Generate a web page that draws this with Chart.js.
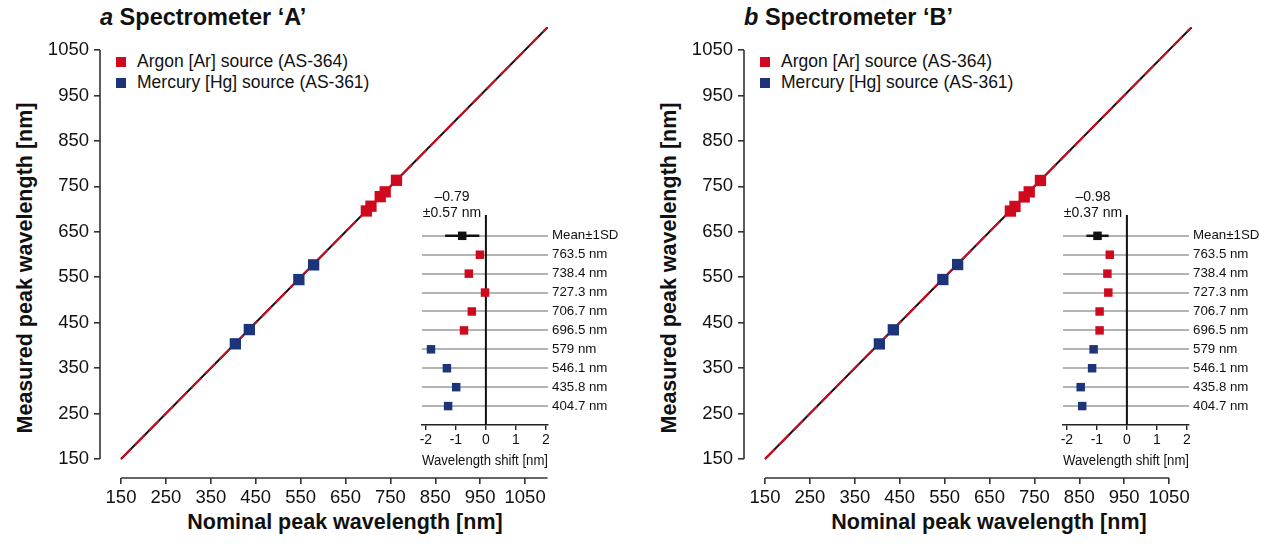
<!DOCTYPE html>
<html>
<head>
<meta charset="utf-8">
<script src="https://cdn.jsdelivr.net/npm/chart.js@4/dist/chart.umd.min.js"></script>
<style>
body { margin: 0; background: #fff; font-family: "Liberation Sans", Arial, sans-serif; color: #111; }
#wrap { position: relative; width: 1269px; height: 544px; overflow: hidden; }
.abs { position: absolute; white-space: nowrap; }
canvas { position: absolute; }
</style>
</head>
<body>
<div id="wrap"></div>
<script>
// nominal peak wavelengths of the lamp lines (nm)
const argonLines = [763.5, 738.4, 727.3, 706.7, 696.5];
const mercuryLines = [579, 546.1, 435.8, 404.7];
const rowLabels = ['Mean±1SD', '763.5 nm', '738.4 nm', '727.3 nm', '706.7 nm', '696.5 nm', '579 nm', '546.1 nm', '435.8 nm', '404.7 nm'];

// wavelength shift (nm), same order as the rows above (argon then mercury)
const shiftA = [-0.20, -0.57, -0.03, -0.47, -0.73, -1.83, -1.30, -0.99, -1.26];
const shiftB = [-0.57, -0.65, -0.62, -0.91, -0.91, -1.11, -1.16, -1.54, -1.49];
const meanA = -0.79, sdA = 0.57;
const meanB = -0.98, sdB = 0.37;

const mainTicks = [150, 250, 350, 450, 550, 650, 750, 850, 950, 1050];
const insetTicks = [-2, -1, 0, 1, 2];

const RED = '#cf0a1f';
const BLUE = '#1e3479';
const FONT = '"Liberation Sans", Arial, sans-serif';

const wrap = document.getElementById('wrap');

function addText(html, left, top, css) {
    const d = document.createElement('div');
    d.className = 'abs';
    d.innerHTML = html;
    d.style.left = left + 'px';
    d.style.top = top + 'px';
    d.style.cssText += css || '';
    wrap.appendChild(d);
    return d;
}

function addCanvas(left, top, w, h) {
    const cv = document.createElement('canvas');
    cv.width = w; cv.height = h;
    cv.style.left = left + 'px';
    cv.style.top = top + 'px';
    wrap.appendChild(cv);
    return cv;
}

// axis lines detached from the plot, like the original
const axisLines = {
    id: 'axisLines',
    afterDraw(chart, args, o) {
        const { ctx, chartArea, scales } = chart;
        const x = scales.x, y = scales.y;
        ctx.save();
        ctx.strokeStyle = '#333';
        ctx.lineWidth = 1.6;
        ctx.beginPath();
        ctx.moveTo(chartArea.left, y.getPixelForValue(150));
        ctx.lineTo(chartArea.left, y.getPixelForValue(1050));
        ctx.moveTo(x.getPixelForValue(150), chartArea.bottom);
        ctx.lineTo(x.getPixelForValue(o.xEnd), chartArea.bottom);
        ctx.stroke();
        ctx.restore();
    }
};

function makePanel(off, letter, name, shifts, mean, sd, xEnd, insetLeft) {
    // titles and legend
    addText('<i>' + letter + '</i> Spectrometer ‘' + name + '’', off + 100, 4, 'font: bold 23.5px ' + FONT + ';');
    addText('Measured peak wavelength [nm]', off + 25, 268, 'font: bold 21.5px ' + FONT + '; transform: translate(-50%,-50%) rotate(-90deg);');
    addText('Nominal peak wavelength [nm]', off + 345, 522, 'font: bold 21.5px ' + FONT + '; transform: translate(-50%,-50%);');
    addText('<span style="display:inline-block;width:10px;height:10px;background:' + RED + ';margin-right:11px"></span>Argon [Ar] source (AS-364)', off + 116, 51, 'font: 17.5px ' + FONT + ';');
    addText('<span style="display:inline-block;width:10px;height:10px;background:' + BLUE + ';margin-right:11px"></span>Mercury [Hg] source (AS-361)', off + 116, 72, 'font: 17.5px ' + FONT + ';');

    const nArgon = argonLines.length;
    const ar = argonLines.map((v, i) => ({ x: v, y: v + shifts[i] }));
    const hg = mercuryLines.map((v, i) => ({ x: v, y: v + shifts[nArgon + i] }));
    const diag = [{ x: 150, y: 150 }, { x: 1100, y: 1100 }];

    new Chart(addCanvas(off, 0, 640, 544), {
        type: 'scatter',
        data: {
            datasets: [
                { data: ar, pointStyle: 'rect', pointRadius: 8, backgroundColor: RED, borderWidth: 0 },
                { data: hg, pointStyle: 'rect', pointRadius: 8, backgroundColor: BLUE, borderWidth: 0 },
                { data: diag, showLine: true, borderColor: RED, borderWidth: 2, borderDash: [14, 6], pointRadius: 0 },
                { data: diag, showLine: true, borderColor: '#111', borderWidth: 2, pointRadius: 0 }
            ]
        },
        options: {
            responsive: false,
            animation: false,
            layout: { padding: { left: 0, top: 27, right: 92, bottom: 0 } },
            plugins: { legend: { display: false }, tooltip: { enabled: false }, axisLines: { xEnd: xEnd } },
            scales: {
                x: {
                    type: 'linear', min: 103.2, max: 1101,
                    afterBuildTicks: s => { s.ticks = mainTicks.map(v => ({ value: v })); },
                    afterFit: s => { s.height = 66; },
                    border: { display: false },
                    grid: { drawOnChartArea: false, tickLength: 6, color: '#333', lineWidth: 1.6 },
                    ticks: { font: { size: 18.5, family: FONT }, color: '#111', padding: 3, maxRotation: 0, autoSkip: false, callback: v => String(v) }
                },
                y: {
                    type: 'linear', min: 108.2, max: 1100.6,
                    afterBuildTicks: s => { s.ticks = mainTicks.map(v => ({ value: v })); },
                    afterFit: s => { s.width = 100; },
                    border: { display: false },
                    grid: { drawOnChartArea: false, tickLength: 6, color: '#333', lineWidth: 1.6 },
                    ticks: { font: { size: 18.5, family: FONT }, color: '#111', padding: 5, autoSkip: false, callback: v => String(v) }
                }
            }
        },
        plugins: [axisLines]
    });

    // inset: wavelength shift per line
    const rowColors = shifts.map((s, i) => i < nArgon ? RED : BLUE);
    const pts = shifts.map((s, i) => ({ x: s, y: i + 1 }));
    addText('–' + Math.abs(mean).toFixed(2) + '<br>±' + sd.toFixed(2) + ' nm', insetLeft + 52, 204, 'font: 14px/15.5px ' + FONT + '; text-align:center; transform: translate(-50%,-50%);');

    new Chart(addCanvas(insetLeft, 180, 228, 290), {
        type: 'scatter',
        data: {
            datasets: [
                { data: pts, pointStyle: 'rect', pointRadius: 6, backgroundColor: rowColors, borderWidth: 0 },
                { data: [{ x: mean, y: 0 }], pointStyle: 'rect', pointRadius: 6, backgroundColor: '#111', borderWidth: 0 },
                { data: [{ x: mean - sd, y: 0 }, { x: mean + sd, y: 0 }], showLine: true, borderColor: '#111', borderWidth: 2.5, pointRadius: 0 },
                { data: [{ x: 0, y: -1.1 }, { x: 0, y: 10 }], showLine: true, borderColor: '#111', borderWidth: 2, pointRadius: 0 }
            ]
        },
        options: {
            responsive: false,
            animation: false,
            layout: { padding: { left: 22, top: 35, right: 0, bottom: 0 } },
            plugins: { legend: { display: false }, tooltip: { enabled: false } },
            scales: {
                x: {
                    type: 'linear', min: -2.13, max: 2.07,
                    afterBuildTicks: s => { s.ticks = insetTicks.map(v => ({ value: v })); },
                    afterFit: s => { s.height = 45; },
                    border: { display: true, color: '#222', width: 1.6 },
                    grid: { drawOnChartArea: false, tickLength: 5, color: '#222', lineWidth: 1.4 },
                    ticks: { font: { size: 14, family: FONT }, color: '#111', padding: 2, maxRotation: 0 },
                    title: { display: true, text: 'Wavelength shift [nm]', font: { size: 14, family: FONT }, color: '#111', padding: { top: 1, bottom: 0 } }
                },
                y: {
                    type: 'linear', position: 'right', reverse: true, min: -1.1, max: 10,
                    afterBuildTicks: s => { s.ticks = rowLabels.map((l, i) => ({ value: i })); },
                    afterFit: s => { s.width = 80; },
                    border: { display: false },
                    grid: { drawTicks: false, color: '#b4b4b4', lineWidth: 2 },
                    ticks: { font: { size: 13.3, family: FONT }, color: '#111', padding: 4, callback: v => rowLabels[v] }
                }
            }
        }
    });
}

makePanel(0, 'a', 'A', shiftA, meanA, sdA, 1100, 400);
makePanel(644, 'b', 'B', shiftB, meanB, sdB, 1050, 1041);
</script>
</body>
</html>
